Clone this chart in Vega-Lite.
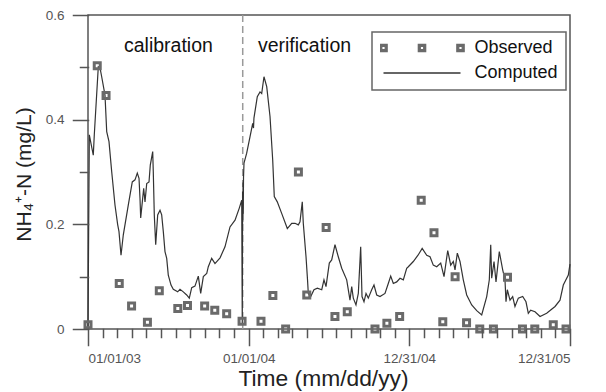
{
  "$schema": "https://vega.github.io/schema/vega-lite/v6.json",
  "width": 482,
  "height": 314,
  "autosize": "none",
  "padding": {"left": 88, "top": 15, "right": 36, "bottom": 63},
  "background": "white",
  "datasets": {
    "computed": [
      {"day": 0, "v": 0.005}, {"day": 3, "v": 0.371}, {"day": 12, "v": 0.332}, {"day": 14.3, "v": 0.371},
      {"day": 23.4, "v": 0.501}, {"day": 27.3, "v": 0.499}, {"day": 31.1, "v": 0.482}, {"day": 38.6, "v": 0.447},
      {"day": 42.5, "v": 0.377}, {"day": 47.7, "v": 0.358}, {"day": 53.8, "v": 0.301}, {"day": 61.3, "v": 0.237},
      {"day": 67.5, "v": 0.199}, {"day": 70.4, "v": 0.186}, {"day": 75, "v": 0.141}, {"day": 80.2, "v": 0.18},
      {"day": 91.6, "v": 0.237}, {"day": 100.6, "v": 0.281}, {"day": 106.8, "v": 0.285}, {"day": 112, "v": 0.298},
      {"day": 115.9, "v": 0.288}, {"day": 118.1, "v": 0.25}, {"day": 119.7, "v": 0.212}, {"day": 123.4, "v": 0.243},
      {"day": 126.5, "v": 0.269}, {"day": 129.5, "v": 0.243}, {"day": 133.4, "v": 0.278}, {"day": 138.6, "v": 0.281},
      {"day": 141.5, "v": 0.313}, {"day": 147, "v": 0.339}, {"day": 148.3, "v": 0.301}, {"day": 150.6, "v": 0.218},
      {"day": 153.8, "v": 0.161}, {"day": 158.3, "v": 0.218}, {"day": 163.6, "v": 0.227}, {"day": 167.4, "v": 0.218},
      {"day": 171.1, "v": 0.186}, {"day": 174.9, "v": 0.148}, {"day": 178.8, "v": 0.135}, {"day": 182.4, "v": 0.103},
      {"day": 188.6, "v": 0.084}, {"day": 193.8, "v": 0.076}, {"day": 203.8, "v": 0.071}, {"day": 209, "v": 0.076},
      {"day": 216.5, "v": 0.071}, {"day": 224.2, "v": 0.065}, {"day": 230.1, "v": 0.059}, {"day": 235.6, "v": 0.079},
      {"day": 243, "v": 0.082}, {"day": 250.6, "v": 0.101}, {"day": 256, "v": 0.068}, {"day": 262, "v": 0.1},
      {"day": 269.7, "v": 0.106}, {"day": 273.3, "v": 0.119}, {"day": 281, "v": 0.135}, {"day": 288.5, "v": 0.125},
      {"day": 300, "v": 0.136}, {"day": 311.2, "v": 0.157}, {"day": 322.6, "v": 0.195}, {"day": 334, "v": 0.208},
      {"day": 343.7, "v": 0.231}, {"day": 349.2, "v": 0.246}, {"day": 350.5, "v": 0.008}, {"day": 351.2, "v": 0.262},
      {"day": 351.7, "v": 0.205}, {"day": 352.2, "v": 0.28}, {"day": 352.7, "v": 0.22}, {"day": 353.3, "v": 0.29},
      {"day": 354.4, "v": 0.317}, {"day": 360.5, "v": 0.336}, {"day": 368, "v": 0.367}, {"day": 374.2, "v": 0.393},
      {"day": 376, "v": 0.384}, {"day": 377, "v": 0.403}, {"day": 384.6, "v": 0.444}, {"day": 390.8, "v": 0.453},
      {"day": 394.6, "v": 0.45}, {"day": 399.8, "v": 0.482}, {"day": 406, "v": 0.463}, {"day": 413.5, "v": 0.406},
      {"day": 419.6, "v": 0.323}, {"day": 423.2, "v": 0.253}, {"day": 430, "v": 0.243}, {"day": 440, "v": 0.221},
      {"day": 452.8, "v": 0.192}, {"day": 462.8, "v": 0.202}, {"day": 470.3, "v": 0.202}, {"day": 477.8, "v": 0.199},
      {"day": 481.6, "v": 0.205}, {"day": 486.8, "v": 0.243}, {"day": 489.1, "v": 0.202}, {"day": 495.3, "v": 0.138},
      {"day": 498.7, "v": 0.094}, {"day": 500.5, "v": 0.068}, {"day": 506, "v": 0.062}, {"day": 513.4, "v": 0.075},
      {"day": 521, "v": 0.078}, {"day": 531, "v": 0.075}, {"day": 536.1, "v": 0.094}, {"day": 540.7, "v": 0.081},
      {"day": 548.2, "v": 0.126}, {"day": 553.6, "v": 0.132}, {"day": 561.1, "v": 0.161}, {"day": 568.6, "v": 0.138},
      {"day": 576.4, "v": 0.116}, {"day": 587.7, "v": 0.094}, {"day": 595.2, "v": 0.055}, {"day": 599.1, "v": 0.081},
      {"day": 602.7, "v": 0.059}, {"day": 608.8, "v": 0.046}, {"day": 614.1, "v": 0.068}, {"day": 619.5, "v": 0.157},
      {"day": 622.5, "v": 0.062}, {"day": 627, "v": 0.052}, {"day": 631.6, "v": 0.068}, {"day": 636.8, "v": 0.059},
      {"day": 644.5, "v": 0.075}, {"day": 649.7, "v": 0.084}, {"day": 655.9, "v": 0.065}, {"day": 663.4, "v": 0.062},
      {"day": 674.7, "v": 0.068}, {"day": 682.2, "v": 0.087}, {"day": 687.7, "v": 0.101}, {"day": 693.6, "v": 0.087},
      {"day": 701.3, "v": 0.09}, {"day": 708.8, "v": 0.097}, {"day": 716.3, "v": 0.094}, {"day": 724, "v": 0.116},
      {"day": 727.7, "v": 0.119}, {"day": 739, "v": 0.129}, {"day": 749.7, "v": 0.141}, {"day": 759.2, "v": 0.154},
      {"day": 769.5, "v": 0.141}, {"day": 777, "v": 0.138}, {"day": 784.4, "v": 0.122}, {"day": 792.2, "v": 0.119},
      {"day": 801.3, "v": 0.126}, {"day": 808.8, "v": 0.1}, {"day": 817.2, "v": 0.15}, {"day": 824, "v": 0.122},
      {"day": 829.9, "v": 0.129}, {"day": 833.8, "v": 0.113}, {"day": 839, "v": 0.145}, {"day": 845.1, "v": 0.129},
      {"day": 852.6, "v": 0.094}, {"day": 860.3, "v": 0.065}, {"day": 871.7, "v": 0.046}, {"day": 883.1, "v": 0.035},
      {"day": 894.4, "v": 0.027}, {"day": 905.8, "v": 0.062}, {"day": 911.7, "v": 0.094}, {"day": 914.9, "v": 0.161},
      {"day": 917.1, "v": 0.097}, {"day": 922.4, "v": 0.129}, {"day": 926.9, "v": 0.09}, {"day": 934.4, "v": 0.148},
      {"day": 942.1, "v": 0.113}, {"day": 947.3, "v": 0.094}, {"day": 949.6, "v": 0.052}, {"day": 952.6, "v": 0.075},
      {"day": 958.7, "v": 0.055}, {"day": 964.8, "v": 0.062}, {"day": 970, "v": 0.043}, {"day": 977.6, "v": 0.059},
      {"day": 987.5, "v": 0.062}, {"day": 995, "v": 0.052}, {"day": 1000.3, "v": 0.03}, {"day": 1005.7, "v": 0.036},
      {"day": 1015.5, "v": 0.033}, {"day": 1026.9, "v": 0.024}, {"day": 1042, "v": 0.03}, {"day": 1061, "v": 0.043},
      {"day": 1072.3, "v": 0.055}, {"day": 1079.8, "v": 0.084}, {"day": 1091.2, "v": 0.103}, {"day": 1095, "v": 0.124}
    ],
    "observed": [
      {"day": 0, "v": 0.008}, {"day": 21, "v": 0.503}, {"day": 41, "v": 0.446}, {"day": 71, "v": 0.087},
      {"day": 99, "v": 0.044}, {"day": 135, "v": 0.013}, {"day": 162, "v": 0.073}, {"day": 204, "v": 0.039},
      {"day": 226, "v": 0.045}, {"day": 265, "v": 0.044}, {"day": 288, "v": 0.036}, {"day": 315, "v": 0.029},
      {"day": 350, "v": 0.015}, {"day": 393, "v": 0.015}, {"day": 420, "v": 0.064}, {"day": 449, "v": 0.0},
      {"day": 478, "v": 0.3}, {"day": 497, "v": 0.065}, {"day": 541, "v": 0.194}, {"day": 561, "v": 0.024},
      {"day": 589, "v": 0.033}, {"day": 652, "v": 0.0}, {"day": 679, "v": 0.011}, {"day": 708, "v": 0.024},
      {"day": 757, "v": 0.246}, {"day": 786, "v": 0.184}, {"day": 806, "v": 0.014}, {"day": 834, "v": 0.1},
      {"day": 860, "v": 0.012}, {"day": 890, "v": 0.0}, {"day": 921, "v": 0.0}, {"day": 953, "v": 0.099},
      {"day": 987, "v": 0.0}, {"day": 1015, "v": 0.0}, {"day": 1057, "v": 0.008}, {"day": 1086, "v": 0.0}
    ]
  },
  "resolve": {"axis": {"x": "independent", "y": "independent"}},
  "layer": [
    {
      "data": {"values": [{}]},
      "mark": {"type": "rule", "color": "#9a9a9a", "strokeWidth": 1.5, "strokeDash": [7, 4]},
      "encoding": {
        "x": {"datum": 351.5, "type": "quantitative", "axis": null, "scale": {"domain": [0, 1095], "nice": false, "zero": false}}
      }
    },
    {
      "data": {"name": "computed"},
      "mark": {"type": "line", "strokeWidth": 1.2, "interpolate": "linear", "color": "#333333"},
      "encoding": {
        "x": {
          "field": "day", "type": "quantitative",
          "scale": {"domain": [0, 1095], "nice": false, "zero": false},
          "axis": {
            "orient": "bottom", "values": [0, 365, 730, 1095], "ticks": true, "zindex": 2, "tickCap": "square",
            "labelExpr": "datum.value == 0 ? '01/01/03' : datum.value == 365 ? '01/01/04' : datum.value == 730 ? '12/31/04' : '12/31/05'",
            "tickSize": 16, "tickColor": "#555555", "tickWidth": 1.5, "labelPadding": 6,
            "title": "Time (mm/dd/yy)", "titleX": 235, "titleY": 56, "titleBaseline": "alphabetic", "titleAlign": "center", "titleFontSize": 22.8
          }
        },
        "y": {
          "field": "v", "type": "quantitative",
          "scale": {"domain": [0, 0.6], "nice": false, "zero": true},
          "axis": {
            "orient": "left", "values": [0, 0.2, 0.4, 0.6], "ticks": true, "zindex": 2, "tickCap": "square",
            "labelExpr": "datum.value == 0 ? '0' : format(datum.value, '.1f')",
            "tickSize": 15, "tickColor": "#555555", "tickWidth": 1.5, "labelPadding": 9,
            "title": "NH₄⁺-N (mg/L)", "titleX": -64, "titleY": 159, "titleAngle": 270, "titleBaseline": "middle", "titleAlign": "center", "titleFontSize": 21
          }
        },
        "color": {
          "datum": "Computed",
          "scale": {"domain": ["Observed", "Computed"], "range": ["#6a6a6a", "#333333"]},
          "legend": {
            "title": null, "orient": "none", "legendX": 284, "legendY": 17,
            "padding": 8, "strokeColor": "#666666",
            "symbolSize": 5929, "symbolStrokeWidth": 1.3, "symbolOffset": 2.5, "symbolOpacity": 1,
            "clipHeight": 16, "rowPadding": 7, "labelOffset": 13,
            "labelFont": "Liberation Sans", "labelFontSize": 18, "labelColor": "#111111",
            "encode": {
              "legend": {"update": {"strokeWidth": {"value": 1.5}}},
              "symbols": {"update": {
                "shape": {"signal": "datum.value === 'Observed' ? 'M-1.095,-0.095L-0.905,-0.095L-0.905,0.095L-1.095,0.095Z M-1.045,-0.045L-1.045,0.045L-0.955,0.045L-0.955,-0.045Z M-0.095,-0.095L0.095,-0.095L0.095,0.095L-0.095,0.095Z M-0.045,-0.045L-0.045,0.045L0.045,0.045L0.045,-0.045Z M0.905,-0.095L1.095,-0.095L1.095,0.095L0.905,0.095Z M0.955,-0.045L0.955,0.045L1.045,0.045L1.045,-0.045Z' : 'stroke'"},
                "fill": {"signal": "datum.value === 'Observed' ? '#6a6a6a' : 'transparent'"},
                "stroke": {"signal": "datum.value === 'Observed' ? '#6a6a6a' : '#333333'"},
                "opacity": {"value": 1}
              }}
            }
          }
        }
      }
    },
    {
      "data": {"name": "observed"},
      "mark": {"type": "point", "shape": "square", "filled": false, "size": 36, "strokeWidth": 3, "opacity": 1},
      "encoding": {
        "x": {
          "field": "day", "type": "quantitative",
          "scale": {"domain": [0, 1095], "nice": false, "zero": false},
          "axis": {
            "orient": "bottom", "ticks": true, "tickColor": "#555555", "tickWidth": 1.5, "zindex": 2, "tickCap": "square",
            "values": [33.2, 66.4, 99.5, 132.7, 165.9, 199.1, 232.3, 265.5, 298.6, 331.8, 398.2, 431.4, 464.5, 497.7, 530.9, 564.1, 597.3, 630.5, 663.6, 696.8, 763.2, 796.4, 829.5, 862.7, 895.9, 929.1, 962.3, 995.5, 1028.6, 1061.8],
            "tickSize": 8, "labels": false, "title": null
          }
        },
        "y": {
          "field": "v", "type": "quantitative",
          "scale": {"domain": [0, 0.6], "nice": false, "zero": true},
          "axis": {"orient": "left", "values": [0.1, 0.3, 0.5], "ticks": true, "tickColor": "#555555", "tickWidth": 1.5, "zindex": 2, "tickCap": "square", "tickSize": 8, "labels": false, "title": null}
        },
        "color": {
          "datum": "Observed",
          "legend": {
            "title": null, "orient": "none", "legendX": 284, "legendY": 17,
            "padding": 8, "strokeColor": "#666666",
            "symbolSize": 5929, "symbolStrokeWidth": 1.3, "symbolOffset": 2.5, "symbolOpacity": 1,
            "clipHeight": 16, "rowPadding": 7, "labelOffset": 13,
            "labelFont": "Liberation Sans", "labelFontSize": 18, "labelColor": "#111111",
            "encode": {
              "legend": {"update": {"strokeWidth": {"value": 1.5}}},
              "symbols": {"update": {
                "shape": {"signal": "datum.value === 'Observed' ? 'M-1.095,-0.095L-0.905,-0.095L-0.905,0.095L-1.095,0.095Z M-1.045,-0.045L-1.045,0.045L-0.955,0.045L-0.955,-0.045Z M-0.095,-0.095L0.095,-0.095L0.095,0.095L-0.095,0.095Z M-0.045,-0.045L-0.045,0.045L0.045,0.045L0.045,-0.045Z M0.905,-0.095L1.095,-0.095L1.095,0.095L0.905,0.095Z M0.955,-0.045L0.955,0.045L1.045,0.045L1.045,-0.045Z' : 'stroke'"},
                "fill": {"signal": "datum.value === 'Observed' ? '#6a6a6a' : 'transparent'"},
                "stroke": {"signal": "datum.value === 'Observed' ? '#6a6a6a' : '#333333'"},
                "opacity": {"value": 1}
              }}
            }
          }
        }
      }
    },
    {
      "data": {"values": [{}]},
      "mark": {"type": "text", "text": "calibration", "align": "left", "baseline": "alphabetic", "font": "Liberation Sans", "fontSize": 19.5, "color": "#111111"},
      "encoding": {
        "x": {"datum": 81.8, "type": "quantitative", "axis": null},
        "y": {"datum": 0.53, "type": "quantitative", "axis": null}
      }
    },
    {
      "data": {"values": [{}]},
      "mark": {"type": "text", "text": "verification", "align": "left", "baseline": "alphabetic", "font": "Liberation Sans", "fontSize": 19.5, "color": "#111111"},
      "encoding": {
        "x": {"datum": 386, "type": "quantitative", "axis": null},
        "y": {"datum": 0.53, "type": "quantitative", "axis": null}
      }
    }
  ],
  "config": {
    "view": {"stroke": "#555555", "strokeWidth": 1.5},
    "axis": {
      "grid": false, "domain": false, "ticks": true,
      "tickColor": "#555555", "tickWidth": 1.5,
      "labelFont": "Liberation Sans", "labelFontSize": 13.5, "labelColor": "#555555",
      "titleFont": "Liberation Sans", "titleFontSize": 21, "titleFontWeight": "normal", "titleColor": "#222222"
    }
  }
}
